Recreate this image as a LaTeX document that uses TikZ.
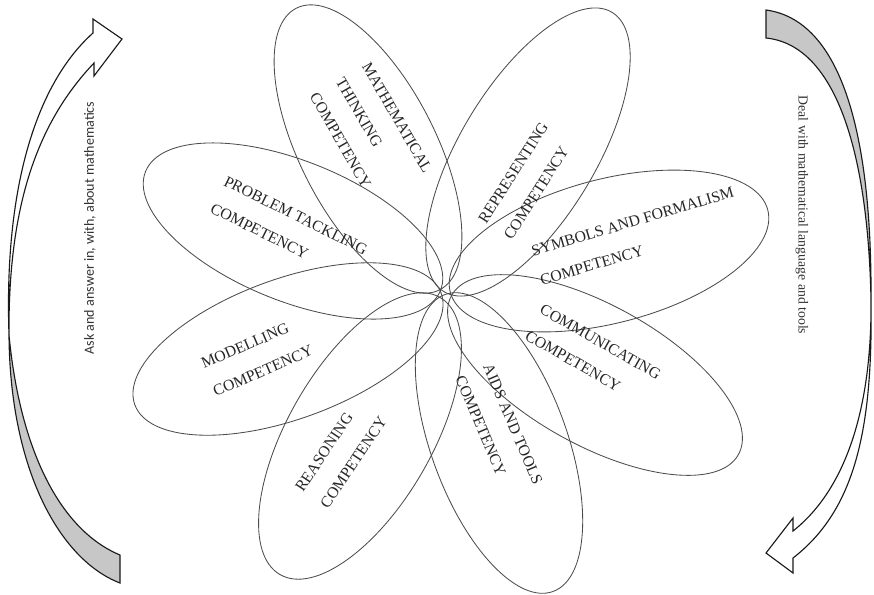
\documentclass[tikz,border=0pt]{standalone}
\usepackage{fontspec}
\setmainfont{Liberation Serif}
\newfontfamily\calfont{Carlito}
\usetikzlibrary{positioning}
\tikzset{
petal/.style={draw=black!70, line width=0.6pt}, % outline of one competency petal
comp/.style={align=left, text=black!85, inner sep=0pt, font=\fontsize{11.2}{21.5}\selectfont}, % text inside a petal
ribbon/.style={draw=black!90, line width=0.8pt, line join=miter, fill=white}, % front of a curved arrow
ribbonback/.style={ribbon, fill=black!22}, % back side of a curved arrow
}

\begin{document}
\begin{tikzpicture}[x=0.025cm, y=-0.025cm]
\useasboundingbox (0,0) rectangle (874,594);

% the eight petals
\draw[petal, rotate around={117:(368,149)}] (368,149) ellipse (158 and 68);
\draw[petal, rotate around={59:(528,152)}] (528,152) ellipse (163 and 68);
\draw[petal, rotate around={14.5:(609,251)}] (609,251) ellipse (164 and 72);
\draw[petal, rotate around={-29:(595,375)}] (595,375) ellipse (164 and 70);
\draw[petal, rotate around={-70:(499,443)}] (499,443) ellipse (158 and 68);
\draw[petal, rotate around={240:(360,436)}] (360,436) ellipse (160 and 72);
\draw[petal, rotate around={200:(288,349)}] (288,349) ellipse (163 and 70);
\draw[petal, rotate around={158:(293,231)}] (293,231) ellipse (159 and 70);

% petal texts
\node[comp, rotate=-60] at (371,133) (think) {MATHEMATICAL\\THINKING\\COMPETENCY};
\node[comp, rotate=57.5] at (526,181) (repr) {REPRESENTING\\COMPETENCY};
\node[comp, rotate=16.5] at (637,236) (symb) {SYMBOLS AND FORMALISM\\COMPETENCY};
\node[comp, rotate=-29.6] at (593,355) (comm) {COMMUNICATING\\COMPETENCY};
\node[comp, rotate=-67] at (499,430) (aids) {AIDS AND TOOLS\\COMPETENCY};
\node[comp, rotate=56.3] at (341,454) (reas) {REASONING\\COMPETENCY};
\node[comp, rotate=23.3] at (257,357) (model) {MODELLING\\COMPETENCY};
\node[comp, rotate=-26.4] at (289,229) (prob) {PROBLEM TACKLING\\COMPETENCY};

% left arrow
\coordinate (lt) at (9,335);
\draw[ribbon] (93,33) -- (93,19) -- (122,39) -- (94,76) -- (94,63)
  .. controls (40,120) and (8,200) .. (lt)
  .. controls (4,190) and (35,85) .. (93,33) -- cycle;
\draw[ribbonback] (lt) .. controls (10,470) and (60,560) .. (120,583)
  -- (120,555) .. controls (60,530) and (20,450) .. (lt) -- cycle;
\node[rotate=90, font=\calfont\fontsize{10}{12}\selectfont, text=black!80] at (90,228) (ask) {Ask and answer in, with, about mathematics};

% right arrow
\coordinate (rt) at (871,300);
\draw[ribbonback] (766,10) .. controls (840,20) and (872,130) .. (rt)
  .. controls (868,150) and (835,45) .. (766,38) -- cycle;
\draw[ribbon] (rt) .. controls (873,430) and (855,510) .. (793,558)
  -- (793,573) -- (766,553) -- (793,518) -- (793,531)
  .. controls (845,490) and (872,410) .. (rt) -- cycle;
\node[rotate=-90, font=\fontsize{9.8}{12}\selectfont, text=black!80] at (802,215) (deal) {Deal with mathematical language and tools};

\end{tikzpicture}
\end{document}
